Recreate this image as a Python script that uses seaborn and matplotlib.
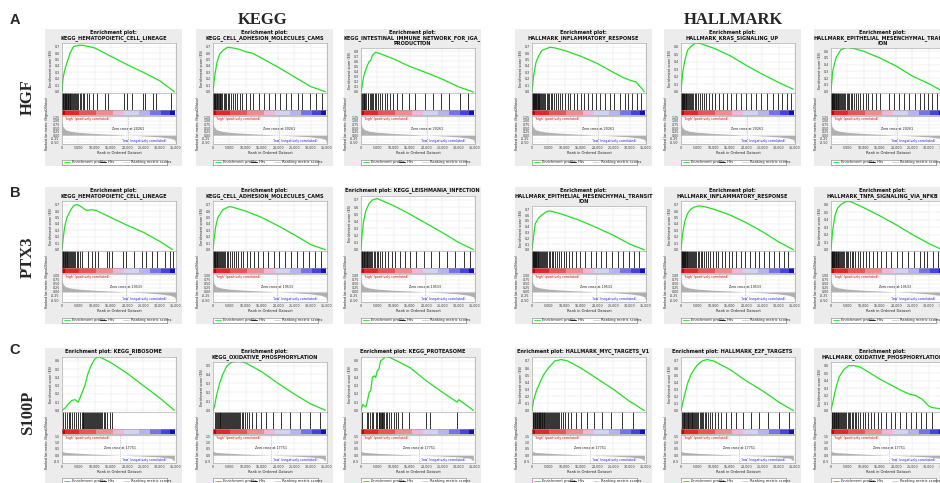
import matplotlib
matplotlib.use("Agg")
import matplotlib.pyplot as plt
import seaborn as sns
from matplotlib.patches import Rectangle

sns.set_style("white")
plt.rcParams['font.family'] = ['DejaVu Sans']
plt.rcParams['axes.linewidth'] = 0.4

# ---------------- data ----------------
row_letters = ["A", "B", "C"]
row_genes = ["HGF", "PTX3", "S100P"]
col_headers = ["KEGG", "HALLMARK"]
rank_ticks = [0, 5, 10, 15, 20, 25, 30, 35]          # thousands
rank_tick_labels = ["0", "5,000", "10,000", "15,000", "20,000", "25,000", "30,000", "35,000"]

titles_A = ["Enrichment plot:\nKEGG_HEMATOPOIETIC_CELL_LINEAGE",
            "Enrichment plot:\nKEGG_CELL_ADHESION_MOLECULES_CAMS",
            "Enrichment plot:\nKEGG_INTESTINAL_IMMUNE_NETWORK_FOR_IGA_\nPRODUCTION",
            "Enrichment plot:\nHALLMARK_INFLAMMATORY_RESPONSE",
            "Enrichment plot:\nHALLMARK_KRAS_SIGNALING_UP",
            "Enrichment plot:\nHALLMARK_EPITHELIAL_MESENCHYMAL_TRANSIT\nION"]
titles_B = ["Enrichment plot:\nKEGG_HEMATOPOIETIC_CELL_LINEAGE",
            "Enrichment plot:\nKEGG_CELL_ADHESION_MOLECULES_CAMS",
            "Enrichment plot: KEGG_LEISHMANIA_INFECTION",
            "Enrichment plot:\nHALLMARK_EPITHELIAL_MESENCHYMAL_TRANSIT\nION",
            "Enrichment plot:\nHALLMARK_INFLAMMATORY_RESPONSE",
            "Enrichment plot:\nHALLMARK_TNFA_SIGNALING_VIA_NFKB"]
titles_C = ["Enrichment plot: KEGG_RIBOSOME",
            "Enrichment plot:\nKEGG_OXIDATIVE_PHOSPHORYLATION",
            "Enrichment plot: KEGG_PROTEASOME",
            "Enrichment plot: HALLMARK_MYC_TARGETS_V1",
            "Enrichment plot: HALLMARK_E2F_TARGETS",
            "Enrichment plot:\nHALLMARK_OXIDATIVE_PHOSPHORYLATION"]

# ES curves (rank in thousands, enrichment score)
A1_rank = [0, 0.3, 0.8, 1.5, 2.5, 3.5, 5.0, 6.5, 10, 15, 20, 25, 30, 34.5]
A1_es = [0, 0.2, 0.33, 0.45, 0.6, 0.7, 0.72, 0.72, 0.68, 0.55, 0.42, 0.3, 0.17, 0.0]
A2_rank = [0, 0.3, 0.7, 1.2, 2.0, 3.0, 4.5, 6, 8, 10, 12, 15, 20, 25, 30, 34.5]
A2_es = [0, 0.15, 0.3, 0.45, 0.58, 0.64, 0.69, 0.68, 0.66, 0.62, 0.6, 0.52, 0.38, 0.23, 0.08, 0.0]
A3_rank = [0, 0.3, 0.8, 1.5, 2.5, 3.0, 3.5, 4.5, 6, 10, 15, 20, 25, 30, 34.5]
A3_es = [0, 0.1, 0.3, 0.45, 0.6, 0.62, 0.72, 0.78, 0.75, 0.65, 0.5, 0.38, 0.25, 0.1, 0.0]
A4_rank = [0, 0.5, 1.2, 2.0, 3.0, 4.0, 5.5, 7, 10, 15, 20, 25, 28, 30, 32, 34.5]
A4_es = [0, 0.25, 0.45, 0.55, 0.64, 0.66, 0.69, 0.68, 0.64, 0.55, 0.44, 0.3, 0.22, 0.18, 0.15, 0.0]
A5_rank = [0, 0.5, 1.2, 2.0, 3.0, 4.5, 6, 10, 15, 20, 25, 30, 34.5]
A5_es = [0, 0.25, 0.42, 0.55, 0.6, 0.65, 0.64, 0.58, 0.48, 0.35, 0.23, 0.12, 0.03]
A6_rank = [0, 0.5, 1.5, 3.0, 5.0, 7, 10, 15, 20, 25, 30, 34.5]
A6_es = [0, 0.3, 0.5, 0.62, 0.66, 0.64, 0.6, 0.5, 0.38, 0.23, 0.12, 0.0]

B1_rank = [0, 0.3, 0.8, 1.5, 2.5, 3.5, 4.5, 5.5, 7.5, 9, 10.5, 15, 20, 25, 30, 34]
B1_es = [0, 0.15, 0.35, 0.5, 0.6, 0.68, 0.7, 0.68, 0.61, 0.62, 0.61, 0.5, 0.38, 0.27, 0.13, 0.0]
B2_rank = [0, 0.3, 0.8, 1.5, 3.0, 5.0, 6, 8, 10, 15, 20, 25, 30, 34.5]
B2_es = [0, 0.15, 0.35, 0.5, 0.62, 0.67, 0.66, 0.63, 0.6, 0.5, 0.37, 0.23, 0.08, 0.0]
B3_rank = [0, 0.3, 0.8, 1.5, 2.5, 3.5, 5.0, 7, 10, 15, 20, 25, 30, 34.5]
B3_es = [0, 0.2, 0.4, 0.55, 0.65, 0.7, 0.72, 0.68, 0.62, 0.5, 0.37, 0.24, 0.1, 0.0]
B4_rank = [0, 0.4, 1.0, 2.0, 3.0, 4.5, 5.5, 7, 10, 15, 20, 25, 30, 34.5]
B4_es = [0, 0.2, 0.45, 0.55, 0.6, 0.66, 0.67, 0.65, 0.6, 0.5, 0.38, 0.25, 0.1, 0.0]
B5_rank = [0, 0.5, 1.2, 2.0, 3.0, 4.0, 5.5, 7, 10, 15, 20, 25, 30, 34.5]
B5_es = [0, 0.25, 0.45, 0.56, 0.63, 0.66, 0.68, 0.67, 0.63, 0.54, 0.42, 0.28, 0.12, 0.0]
B6_rank = [0, 0.5, 1.2, 2.0, 3.0, 4.5, 6, 8, 10, 15, 20, 25, 30, 34]
B6_es = [0, 0.25, 0.45, 0.55, 0.6, 0.64, 0.64, 0.6, 0.56, 0.45, 0.33, 0.2, 0.08, 0.0]

C1_rank = [0, 1, 2, 3, 4, 5, 6, 7, 8, 9, 10, 11, 12, 15, 20, 25, 30, 34.5]
C1_es = [0, 0.03, 0.08, 0.12, 0.13, 0.1, 0.2, 0.3, 0.45, 0.55, 0.62, 0.65, 0.64, 0.58, 0.45, 0.3, 0.15, 0.0]
C2_rank = [0, 0.5, 1, 2, 3, 4, 5, 6, 8, 10, 15, 20, 25, 30, 34.5]
C2_es = [0, 0.05, 0.15, 0.3, 0.4, 0.48, 0.52, 0.54, 0.55, 0.53, 0.43, 0.3, 0.18, 0.07, 0.0]
C3_rank = [0, 0.5, 1.5, 2, 2.5, 3, 3.5, 4, 4.5, 5, 5.5, 6, 7, 7.5, 9, 12, 15, 20, 25, 29.5, 30, 34.5]
C3_es = [0, 0.07, 0.04, 0.12, 0.22, 0.24, 0.4, 0.42, 0.4, 0.48, 0.5, 0.6, 0.63, 0.66, 0.64, 0.58, 0.52, 0.36, 0.22, 0.1, 0.13, 0.0]
C4_rank = [0, 0.5, 1.5, 2.5, 3.5, 5, 7, 9, 11, 15, 20, 25, 30, 34.5]
C4_es = [0, 0.15, 0.3, 0.4, 0.5, 0.6, 0.7, 0.72, 0.7, 0.6, 0.45, 0.3, 0.13, 0.0]
C5_rank = [0, 1, 2, 3, 4, 5, 6.5, 8, 10, 15, 20, 25, 30, 34.5]
C5_es = [0, 0.2, 0.38, 0.5, 0.58, 0.64, 0.7, 0.72, 0.7, 0.58, 0.42, 0.28, 0.12, 0.0]
C6_rank = [0, 0.5, 1.5, 2.5, 4, 5.5, 7, 9, 12, 15, 18, 21, 24, 26, 28, 30, 31, 34]
C6_es = [0, 0.1, 0.3, 0.45, 0.55, 0.6, 0.6, 0.58, 0.5, 0.42, 0.35, 0.28, 0.22, 0.2, 0.15, 0.06, 0.04, 0.02]

# ES axis maxima (ticks every 0.1)
es_ymax = [[0.7, 0.7, 0.8, 0.7, 0.6, 0.6],
           [0.7, 0.7, 0.7, 0.7, 0.7, 0.6],
           [0.6, 0.5, 0.6, 0.7, 0.7, 0.6]]

# gene-set hit positions (rank, thousands)
A1_hits = [0.1, 0.3, 0.4, 0.6, 0.8, 1.0, 1.2, 1.3, 1.5, 1.7, 1.9, 2.1, 2.4, 2.6, 2.9, 3.1, 3.4, 3.7, 4.0, 4.3, 4.7, 5.0, 5.4, 5.9, 6.3, 6.9, 7.6, 8.4, 9.4, 10.6, 13.3, 14.0, 18.9, 20.0, 21.4, 24.8, 25.6, 27.9, 29.0, 33.5]
A2_hits = [0.1, 0.2, 0.4, 0.6, 0.7, 0.9, 1.1, 1.3, 1.5, 1.8, 2.0, 2.3, 2.6, 2.9, 3.3, 3.6, 4.0, 4.5, 5.0, 5.6, 6.2, 6.9, 7.5, 8.3, 9.0, 10.2, 11.5, 12.4, 14.0, 15.6, 17.2, 19.0, 20.5, 22.3, 24.0, 26.1, 27.3, 29.8, 31.6, 33.4]
A3_hits = [0.1, 0.3, 0.5, 0.8, 1.0, 1.3, 1.6, 2.0, 2.3, 2.7, 3.0, 3.4, 3.8, 4.2, 4.6, 5.2, 5.9, 6.5, 7.3, 8.0, 8.9, 9.8, 11.2, 12.5, 14.8, 16.7, 19.5, 22.0, 24.5, 27.0, 30.4, 33.0]
A4_hits = [0.1, 0.2, 0.3, 0.5, 0.6, 0.8, 0.9, 1.1, 1.3, 1.5, 1.7, 1.9, 2.1, 2.3, 2.6, 2.9, 3.2, 3.5, 3.8, 4.1, 4.5, 4.9, 5.3, 5.8, 6.2, 6.7, 7.3, 7.9, 8.6, 9.3, 10.0, 10.9, 11.8, 12.9, 13.8, 14.9, 16.0, 17.2, 18.4, 19.8, 21.0, 22.5, 24.0, 25.2, 26.9, 28.4, 29.5, 30.8, 32.2, 33.5]
A5_hits = [0.1, 0.2, 0.4, 0.5, 0.7, 0.9, 1.0, 1.2, 1.4, 1.6, 1.9, 2.1, 2.4, 2.7, 3.0, 3.4, 3.8, 4.2, 4.7, 5.2, 5.8, 6.4, 7.0, 7.8, 8.6, 9.5, 10.4, 11.6, 12.8, 14.2, 15.5, 16.9, 18.3, 19.9, 21.5, 23.0, 24.6, 26.4, 28.1, 29.7, 31.0, 32.6, 33.8]
A6_hits = [0.1, 0.2, 0.3, 0.4, 0.6, 0.7, 0.9, 1.0, 1.2, 1.4, 1.6, 1.8, 2.0, 2.2, 2.5, 2.8, 3.1, 3.4, 3.7, 4.0, 4.4, 4.8, 5.2, 5.6, 6.1, 6.6, 7.1, 7.7, 8.3, 9.0, 9.8, 10.6, 11.5, 12.6, 13.7, 15.0, 17.8, 19.2, 20.8, 22.4, 24.1, 25.9, 27.2, 28.6, 29.8, 31.1, 32.5, 33.9]

B1_hits = [0.1, 0.3, 0.4, 0.6, 0.8, 1.0, 1.2, 1.4, 1.6, 1.9, 2.1, 2.4, 2.7, 3.0, 3.3, 3.7, 4.1, 4.5, 5.0, 5.5, 6.0, 8.1, 9.3, 10.2, 11.0, 13.8, 14.5, 15.4, 18.6, 19.8, 22.1, 24.5, 25.8, 27.6, 29.2, 31.5, 33.2, 34.0]
B2_hits = [0.1, 0.2, 0.4, 0.5, 0.7, 0.9, 1.1, 1.3, 1.6, 1.8, 2.1, 2.4, 2.7, 3.0, 3.4, 3.8, 4.2, 4.7, 5.2, 5.8, 6.4, 7.0, 7.7, 8.5, 9.3, 10.3, 11.4, 12.6, 13.9, 15.3, 16.9, 18.6, 20.3, 22.0, 23.8, 25.7, 27.5, 29.4, 31.3, 33.2]
B3_hits = [0.1, 0.2, 0.4, 0.6, 0.8, 1.0, 1.2, 1.4, 1.7, 1.9, 2.2, 2.5, 2.8, 3.1, 3.5, 3.9, 4.3, 4.8, 5.3, 5.9, 6.6, 7.4, 8.3, 9.4, 10.5, 11.9, 13.4, 15.1, 17.0, 19.2, 21.6, 24.0, 26.5, 29.0, 31.5, 33.6]
B4_hits = [0.1, 0.2, 0.3, 0.5, 0.6, 0.8, 0.9, 1.1, 1.3, 1.5, 1.7, 1.9, 2.1, 2.4, 2.7, 3.0, 3.3, 3.6, 3.9, 4.3, 4.7, 5.1, 5.5, 6.0, 6.5, 7.0, 7.6, 8.2, 8.9, 9.7, 10.5, 11.4, 12.4, 13.5, 14.7, 16.2, 18.0, 19.5, 21.1, 22.8, 24.6, 26.3, 28.0, 29.7, 31.3, 33.0]
B5_hits = [0.1, 0.2, 0.3, 0.5, 0.6, 0.8, 1.0, 1.1, 1.3, 1.5, 1.7, 1.9, 2.2, 2.4, 2.7, 3.0, 3.3, 3.6, 3.9, 4.3, 4.7, 5.1, 5.6, 6.0, 6.5, 7.1, 7.7, 8.3, 9.0, 9.8, 10.6, 11.5, 12.5, 13.5, 14.6, 15.8, 17.0, 18.3, 19.7, 21.1, 22.6, 24.1, 25.6, 27.1, 28.6, 30.0, 31.5, 33.0]
B6_hits = [0.1, 0.2, 0.3, 0.4, 0.6, 0.7, 0.9, 1.0, 1.2, 1.4, 1.6, 1.8, 2.0, 2.3, 2.5, 2.8, 3.1, 3.4, 3.7, 4.1, 4.5, 4.9, 5.3, 5.8, 6.3, 6.9, 7.5, 8.2, 9.0, 9.8, 10.7, 11.7, 12.8, 14.0, 15.3, 16.8, 18.4, 20.2, 21.9, 23.7, 25.6, 27.4, 28.6, 29.6, 31.2, 32.8]

C1_hits = [0.3, 0.9, 1.5, 2.0, 2.6, 3.1, 3.8, 4.3, 5.0, 5.5, 6.0, 6.3, 6.6, 6.9, 7.2, 7.5, 7.8, 8.1, 8.4, 8.7, 9.0, 9.3, 9.6, 9.9, 10.2, 10.5, 10.8, 11.1, 11.4, 11.7, 12.0, 12.4, 12.8, 13.3, 13.9, 14.6, 15.4]
C2_hits = [0.5, 0.8, 1.1, 1.4, 1.7, 2.0, 2.3, 2.6, 2.9, 3.2, 3.5, 3.8, 4.1, 4.4, 4.7, 5.0, 5.3, 5.6, 5.9, 6.2, 6.5, 6.8, 7.1, 7.4, 7.7, 8.0, 8.4, 8.8, 9.2, 9.7, 10.3, 11.0, 12.0, 13.2, 14.6, 16.3, 18.4, 20.8, 23.5, 26.7, 29.9, 33.0]
C3_hits = [0.4, 1.9, 2.3, 2.7, 3.4, 3.6, 4.6, 5.0, 5.4, 5.6, 5.8, 6.0, 6.3, 6.6, 6.9, 7.2, 7.6, 8.1, 8.7, 9.3, 10.1, 10.8, 11.3, 12.5, 14.8, 19.9, 21.3, 29.6]
C4_hits = [0.2, 0.4, 0.6, 0.8, 1.0, 1.2, 1.4, 1.6, 1.8, 2.0, 2.2, 2.4, 2.6, 2.8, 3.0, 3.2, 3.4, 3.6, 3.8, 4.0, 4.3, 4.6, 4.9, 5.2, 5.5, 5.8, 6.1, 6.4, 6.7, 7.0, 7.3, 7.6, 8.0, 8.4, 8.9, 9.5, 10.2, 11.0, 12.0, 13.5, 15.0, 16.8, 18.9, 21.5, 24.2, 27.5, 31.0]
C5_hits = [0.3, 0.5, 0.8, 1.0, 1.3, 1.5, 1.8, 2.0, 2.3, 2.5, 2.8, 3.0, 3.3, 3.5, 3.8, 4.1, 4.4, 4.7, 5.0, 5.3, 5.7, 6.1, 6.5, 6.9, 7.3, 7.8, 8.3, 8.9, 9.6, 10.4, 11.3, 12.4, 13.7, 15.2, 17.0, 19.0, 21.4, 24.0, 26.8, 30.1, 33.2]
C6_hits = [0.2, 0.4, 0.6, 0.8, 1.0, 1.2, 1.4, 1.6, 1.8, 2.0, 2.2, 2.5, 2.8, 3.1, 3.4, 3.7, 4.0, 4.3, 4.7, 5.1, 5.5, 5.9, 6.3, 6.8, 7.3, 7.8, 8.4, 9.0, 9.7, 10.5, 11.3, 12.2, 13.2, 14.3, 15.5, 16.9, 18.3, 19.8, 21.3, 22.9, 24.5, 26.0, 27.6, 29.3, 30.9]

# ranked list metric per gene (rank thousands, metric)
A_metric_rank = [0, 0.3, 1.0, 2.5, 5, 10, 15, 20.261, 25, 30, 33, 34.5, 35]
A_metric = [0.9, 0.6, 0.4, 0.28, 0.2, 0.12, 0.06, 0.0, -0.05, -0.12, -0.2, -0.3, -0.55]
B_metric_rank = [0, 0.3, 1.0, 2.5, 5, 10, 15, 19.533, 25, 30, 33, 34.5, 35]
B_metric = [0.8, 0.5, 0.33, 0.24, 0.17, 0.1, 0.05, 0.0, -0.05, -0.12, -0.2, -0.3, -0.5]
C_metric_rank = [0, 1, 5, 10, 17.751, 25, 30, 33.5, 34.5]
C_metric = [0.3, 0.22, 0.15, 0.08, 0.0, -0.07, -0.14, -0.25, -0.45]
zero_cross = [20261, 19533, 17751]
metric_ticks = [[-0.5, -0.25, 0.0, 0.25, 0.5, 0.75, 1.0, 1.25],
                [-0.5, -0.25, 0.0, 0.25, 0.5, 0.75, 1.0],
                [-0.5, 0.0, 0.5, 1.0, 1.5]]
metric_tick_labels = [["-0.50", "-0.25", "0.00", "0.25", "0.50", "0.75", "1.00", "1.25"],
                      ["-0.50", "-0.25", "0.00", "0.25", "0.50", "0.75", "1.00"],
                      ["-0.5", "0.0", "0.5", "1.0", "1.5"]]

# color-bar blocks (fraction of ranked list) and colours
cb_edges = [0, 0.025, 0.15, 0.3, 0.45, 0.55, 0.68, 0.78, 0.88, 0.955, 1.0]
cb_colors = ["#c80000", "#e02a2a", "#e85555", "#f08c8c", "#f2b6da",
             "#d2d2f4", "#b4b4ee", "#7474e6", "#4444dc", "#1010bc"]

# ---------------- drawing ----------------
FW, FH = 940, 483
fig = plt.figure(figsize=(FW / 100, FH / 100), dpi=100)
fig.patch.set_facecolor("white")


def add_ax(x, y, w, h):
    ax = fig.add_axes([x / FW, 1 - (y + h) / FH, w / FW, h / FH])
    ax.set_zorder(2)
    return ax


def fx(x):
    return x / FW


def fy(y):
    return 1 - y / FH


TICK_FS = 2.3
SPINE = "#9a9a9a"
GREEN = "#22e022"


def style_ax(ax):
    ax.set_facecolor("white")
    for s in ax.spines.values():
        s.set_color(SPINE)
        s.set_linewidth(0.4)
    ax.tick_params(axis="both", length=1, width=0.3, pad=0.6,
                   labelsize=TICK_FS, colors="#333333")


def draw_panel(bx, by, title, es_rank, es_val, hits, ymax,
               m_rank, m_val, zc, m_ticks, m_labels):
    W, H = 137, 137
    fig.patches.append(Rectangle((fx(bx), fy(by + H)), W / FW, H / FH,
                                 transform=fig.transFigure,
                                 facecolor="#ececec", edgecolor="none", zorder=-5))
    lines = title.split("\n")
    for i, ln in enumerate(lines):
        fig.text(fx(bx + W / 2), fy(by + 3.5 + 5.6 * i), ln, ha="center", va="center",
                 fontsize=3.6, fontweight="bold", color="#111111", zorder=3)
    top = by + {1: 9, 2: 14, 3: 19}[len(lines)]
    x0, aw = bx + 17, 114

    # enrichment score
    ax = add_ax(x0, top, aw, by + 64 - top)
    style_ax(ax)
    sns.lineplot(x=es_rank, y=es_val, ax=ax, color=GREEN, linewidth=0.9)
    ax.set_xlim(0, 35)
    ax.set_ylim(-0.02, ymax * 1.08)
    ax.set_xticks(rank_ticks)
    ax.set_xticklabels([])
    ax.tick_params(axis="x", length=0)
    yt = [round(0.1 * k, 1) for k in range(int(round(ymax * 10)) + 1)]
    ax.set_yticks(yt)
    ax.set_yticklabels([f"{v:.1f}" for v in yt])
    ax.grid(True, color="#e2e2e2", linewidth=0.3)
    ax.set_axisbelow(True)
    ax.set_ylabel("Enrichment score (ES)", fontsize=2.4, labelpad=1.2)

    # hits
    axh = add_ax(x0, by + 64, aw, 17)
    style_ax(axh)
    axh.vlines(hits, 0, 1, color="#111111", linewidth=0.6)
    axh.set_xlim(0, 35)
    axh.set_ylim(0, 1)
    axh.set_xticks([])
    axh.set_yticks([])

    # colour bar
    axc = add_ax(x0, by + 81, aw, 5)
    style_ax(axc)
    for k in range(len(cb_colors)):
        axc.axvspan(cb_edges[k] * 34.6, cb_edges[k + 1] * 34.6, color=cb_colors[k], lw=0)
    axc.set_xlim(0, 35)
    axc.set_xticks([])
    axc.set_yticks([])

    # ranked list metric
    axm = add_ax(x0, by + 87, aw, 28)
    style_ax(axm)
    axm.fill_between(m_rank, m_val, 0, color="#b0b0b0", linewidth=0)
    axm.axvline(zc / 1000, color="#a0a0a0", linewidth=0.4, linestyle=(0, (2, 2)))
    axm.set_xlim(0, 35)
    axm.set_ylim(m_ticks[0] - 0.12, m_ticks[-1] + 0.1)
    axm.set_yticks(m_ticks)
    axm.set_yticklabels(m_labels)
    axm.set_xticks(rank_ticks)
    axm.set_xticklabels(rank_tick_labels)
    axm.grid(True, color="#e2e2e2", linewidth=0.3)
    axm.set_axisbelow(True)
    axm.set_xlabel("Rank in Ordered Dataset", fontsize=2.6, labelpad=0.8)
    axm.set_ylabel("Ranked list metric (Signal2Noise)", fontsize=2.3, labelpad=1.0)
    axm.yaxis.set_label_coords(-0.115, 0.75)
    axm.text(zc / 1000, 0.55, f"Zero cross at {zc}", transform=axm.get_xaxis_transform(),
             ha="center", va="center", fontsize=2.3, color="#222222")
    axm.text(0.03, 0.97, "'high' (positively correlated)", transform=axm.transAxes,
             ha="left", va="top", fontsize=2.3, color="#e00000")
    axm.text(0.72, 0.12, "'low' (negatively correlated)", transform=axm.transAxes,
             ha="center", va="center", fontsize=2.3, color="#2020e0")

    # legend
    axl = add_ax(bx + 17, by + 130.5, 105, 5)
    axl.set_xlim(0, 1)
    axl.set_ylim(0, 1)
    axl.set_xticks([])
    axl.set_yticks([])
    axl.set_facecolor("white")
    for s in axl.spines.values():
        s.set_color("#777777")
        s.set_linewidth(0.4)
    items = [(0.02, GREEN, "Enrichment profile"),
             (0.36, "black", "Hits"),
             (0.58, "#cccccc", "Ranking metric scores")]
    for xs, c, lab in items:
        axl.plot([xs, xs + 0.06], [0.5, 0.5], color=c, linewidth=0.6)
        axl.text(xs + 0.075, 0.5, lab, ha="left", va="center", fontsize=2.6, color="#222222")


col_x = [45, 196, 344, 515, 664, 814]
row_y = [29, 187, 348]

rows = [
    (titles_A,
     [(A1_rank, A1_es, A1_hits), (A2_rank, A2_es, A2_hits), (A3_rank, A3_es, A3_hits),
      (A4_rank, A4_es, A4_hits), (A5_rank, A5_es, A5_hits), (A6_rank, A6_es, A6_hits)],
     A_metric_rank, A_metric),
    (titles_B,
     [(B1_rank, B1_es, B1_hits), (B2_rank, B2_es, B2_hits), (B3_rank, B3_es, B3_hits),
      (B4_rank, B4_es, B4_hits), (B5_rank, B5_es, B5_hits), (B6_rank, B6_es, B6_hits)],
     B_metric_rank, B_metric),
    (titles_C,
     [(C1_rank, C1_es, C1_hits), (C2_rank, C2_es, C2_hits), (C3_rank, C3_es, C3_hits),
      (C4_rank, C4_es, C4_hits), (C5_rank, C5_es, C5_hits), (C6_rank, C6_es, C6_hits)],
     C_metric_rank, C_metric),
]

for r, (titles, panels, mr, mv) in enumerate(rows):
    for c, (er, ev, hh) in enumerate(panels):
        draw_panel(col_x[c], row_y[r], titles[c], er, ev, hh, es_ymax[r][c],
                   mr, mv, zero_cross[r], metric_ticks[r], metric_tick_labels[r])

# row / column labels
label_y = [20, 193, 350]
gene_y = [97, 257, 413]
for r in range(3):
    fig.text(fx(15), fy(label_y[r]), row_letters[r], ha="center", va="center",
             fontsize=10.5, fontweight="bold", family="Liberation Sans")
    fig.text(fx(28), fy(gene_y[r]), row_genes[r], ha="center", va="center", rotation=90,
             fontsize=12, fontweight="bold", family="Liberation Serif")
fig.text(fx(263), fy(20), col_headers[0], ha="center", va="center",
         fontsize=12, fontweight="bold", family="Liberation Serif")
fig.text(fx(733), fy(20), col_headers[1], ha="center", va="center",
         fontsize=12, fontweight="bold", family="Liberation Serif")

fig.savefig("out.png", dpi=100, facecolor="white")
